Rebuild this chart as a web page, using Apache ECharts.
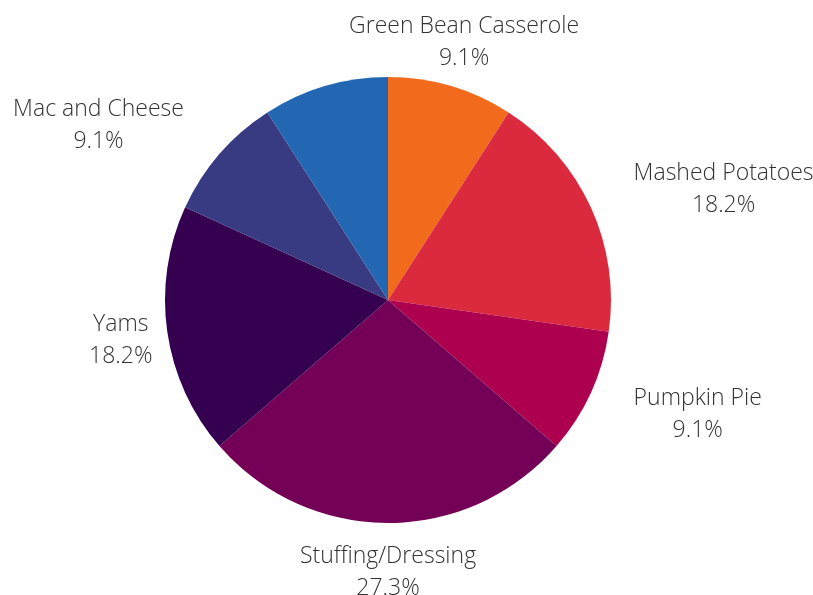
<!DOCTYPE html>
<html>
<head>
<meta charset="utf-8">
<script src="https://cdn.jsdelivr.net/npm/echarts@6/dist/echarts.min.js"></script>
<style>
  html, body { margin: 0; padding: 0; background: #fff; }
  #main { width: 813px; height: 595px; }
</style>
</head>
<body>
<div id="main"></div>
<script>
// slices, clockwise from 12 o'clock
var names = ['Green Bean Casserole', 'Mashed Potatoes', 'Pumpkin Pie', 'Stuffing/Dressing', 'Yams', 'Mac and Cheese', 'Other'];
var values = [1, 2, 1, 3, 2, 1, 1];
var colors = ['#F26A1B', '#DB2A3E', '#AD004E', '#730056', '#350050', '#383A82', '#2366B2'];
var hiddenLabels = ['Other']; // label not shown in the original (no room)

var total = values.reduce(function (a, b) { return a + b; }, 0);

var cx = 388, cy = 300, R = 223, labelR = 270;

// mid angle (radians, from 12 o'clock, clockwise) of each slice
var midAngles = [];
var acc = 0;
for (var i = 0; i < values.length; i++) {
    midAngles.push((acc + values[i] / 2) / total * Math.PI * 2);
    acc += values[i];
}

var myChart = echarts.init(document.getElementById('main'));

var option = {
    animation: false,
    series: [{
        type: 'pie',
        center: [cx, cy],
        radius: R,
        startAngle: 90,
        clockwise: true,
        avoidLabelOverlap: false,
        label: {
            show: true,
            position: 'outside',
            fontFamily: 'Open Sans',
            fontWeight: 300,
            fontSize: 23,
            lineHeight: 32,
            color: '#333',
            align: 'center',
            formatter: function (p) {
                return p.name + '\n' + (p.value / total * 100).toFixed(1) + '%';
            }
        },
        labelLine: { show: false },
        emphasis: { disabled: true },
        // put the label at the slice's mid angle; center it there unless it
        // would run into the pie, then push it away to the side
        labelLayout: function (p) {
            var a = midAngles[p.dataIndex];
            var sx = Math.sin(a), cy_ = Math.cos(a);
            var ax = cx + labelR * sx, ay = cy - labelR * cy_ + 2;
            var w = p.labelRect.width, h = p.labelRect.height;
            var hit = false;
            [[-1, -1], [1, -1], [-1, 1], [1, 1], [0, 1], [0, -1]].forEach(function (c) {
                var px = ax + c[0] * w / 2, py = ay + c[1] * h / 2;
                if (Math.sqrt((px - cx) * (px - cx) + (py - cy) * (py - cy)) < R) hit = true;
            });
            var x = ax;
            if (hit) x = sx > 0 ? ax + w / 2 : ax - w / 2;
            return { x: x, y: ay, align: 'center', verticalAlign: 'middle' };
        },
        data: names.map(function (n, i) {
            var d = { name: n, value: values[i], itemStyle: { color: colors[i] } };
            if (hiddenLabels.indexOf(n) >= 0) d.label = { show: false };
            return d;
        })
    }]
};

myChart.setOption(option);
</script>
</body>
</html>
